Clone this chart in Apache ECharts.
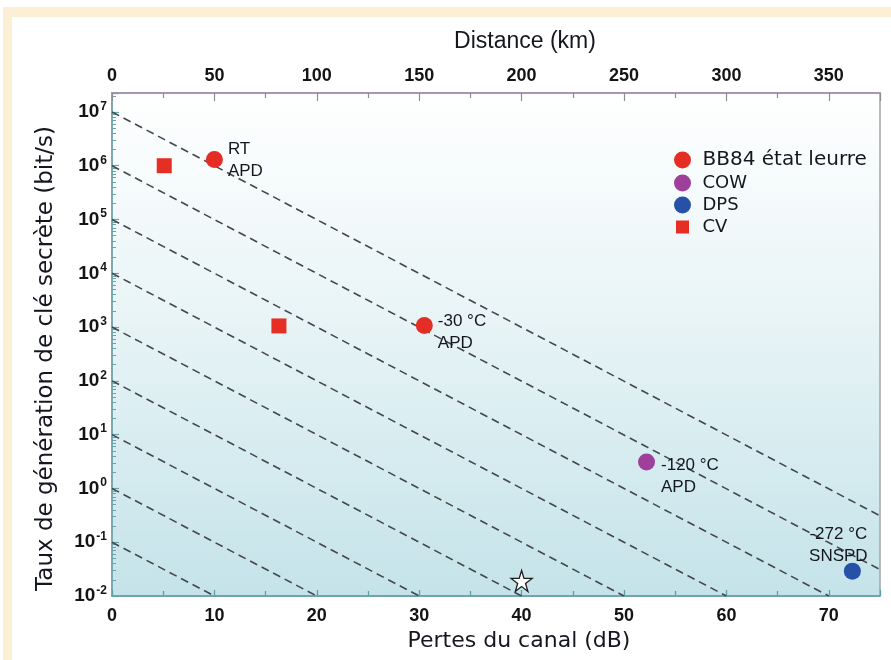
<!DOCTYPE html>
<html>
<head>
<meta charset="utf-8">
<title>Taux de clé secrète vs pertes du canal</title>
<script src="https://cdn.jsdelivr.net/npm/echarts@6/dist/echarts.min.js"></script>
<style>
  html, body { margin: 0; padding: 0; background: #ffffff; }
  #frameTop { position: absolute; left: 3px; top: 7px; width: 888px; height: 10px; background: #fcefd6; }
  #frameLeft { position: absolute; left: 3px; top: 7px; width: 9px; height: 653px; background: #fcefd6; }
  #main { position: absolute; left: 0; top: 0; width: 891px; height: 660px; }
</style>
</head>
<body>
<div id="frameTop"></div>
<div id="frameLeft"></div>
<div id="main"></div>
<script>
  // points: pertes (dB) / taux (bit/s)
  var bb84Loss = [10, 30.5]
  var bb84Rate = [1.3e6, 1.07e3]
  var bb84Text = ['RT\nAPD', '-30 °C\nAPD']

  var cowLoss = [52.2]
  var cowRate = [3.1]
  var cowText = ['-120 °C\nAPD']

  var dpsLoss = [72.3]
  var dpsRate = [0.029]
  var dpsText = ['-272 °C\nSNSPD']

  var cvLoss = [5.1, 16.3]
  var cvRate = [1.0e6, 1.05e3]

  var starLoss = [40]
  var starRate = [0.019]

  // dashed guide lines (start at 0 dB, end where they leave the frame)
  var guideStartRate = [1e7, 1e6, 1e5, 1e4, 1e3, 1e2, 1e1, 1, 0.1]
  var guideEndLoss = [75, 75, 70, 60, 50, 40, 30, 20, 10]
  var guideEndRate = [0.31, 0.031, 0.01, 0.01, 0.01, 0.01, 0.01, 0.01, 0.01]

  var lossMax = 75
  var distMax = 375
  var rateMin = 0.01
  var rateMax = 2.25e7

  var legendNames = ['BB84 état leurre', 'COW', 'DPS', 'CV']

  var myChart = echarts.init(document.getElementById('main'))

  function pts(xs, ys) {
    var out = []
    for (var i = 0; i < xs.length; i++) out.push([xs[i], ys[i]])
    return out
  }
  function labelled(xs, ys, txt) {
    var out = []
    for (var i = 0; i < xs.length; i++) out.push({value: [xs[i], ys[i]], name: txt[i]})
    return out
  }

  var pointLabel = {
    show: true,
    formatter: '{b}',
    color: '#15171f',
    fontSize: 17,
    lineHeight: 22,
    fontFamily: 'Liberation Sans, Arial, sans-serif'
  }

  var series = []
  for (var g = 0; g < guideStartRate.length; g++) {
    series.push({
      type: 'line',
      data: [[0, guideStartRate[g]], [guideEndLoss[g], guideEndRate[g]]],
      symbol: 'none',
      silent: true,
      z: 1,
      lineStyle: {color: '#43484e', width: 1.6, type: [8, 5]}
    })
  }

  var bb84Data = labelled(bb84Loss, bb84Rate, bb84Text)
  bb84Data[0].label = {offset: [0, 1]}
  bb84Data[1].label = {offset: [0, 7]}

  series.push({
    name: 'BB84 état leurre',
    type: 'scatter',
    symbol: 'circle',
    symbolSize: 17,
    itemStyle: {color: '#e42d24', opacity: 1},
    data: bb84Data,
    label: Object.assign({}, pointLabel, {position: 'right', distance: 5}),
    z: 5
  })
  series.push({
    name: 'COW',
    type: 'scatter',
    symbol: 'circle',
    symbolSize: 17,
    itemStyle: {color: '#9f3f9c', opacity: 1},
    data: labelled(cowLoss, cowRate, cowText),
    label: Object.assign({}, pointLabel, {position: 'right', distance: 6, offset: [0, 14]}),
    z: 5
  })
  series.push({
    name: 'DPS',
    type: 'scatter',
    symbol: 'circle',
    symbolSize: 17,
    itemStyle: {color: '#2651a6', opacity: 1},
    data: labelled(dpsLoss, dpsRate, dpsText),
    label: Object.assign({}, pointLabel, {position: 'top', distance: 4, offset: [-14, 9]}),
    z: 5
  })
  series.push({
    name: 'CV',
    type: 'scatter',
    symbol: 'rect',
    symbolSize: 15,
    itemStyle: {color: '#e52f25', opacity: 1},
    data: pts(cvLoss, cvRate),
    z: 5
  })
  series.push({
    type: 'scatter',
    symbol: 'path://M50,3 L61,38 L98,38 L68,60 L79,96 L50,74 L21,96 L32,60 L2,38 L39,38 Z',
    symbolSize: 21,
    itemStyle: {color: '#ffffff', borderColor: '#1e1e1e', borderWidth: 1.3, opacity: 1},
    data: pts(starLoss, starRate),
    z: 6
  })

  var tickFont = 'Liberation Sans, Arial, sans-serif'

  var option = {
    animation: false,
    grid: {
      left: 112, right: 11, top: 93, bottom: 64,
      show: true,
      borderColor: '#a3a6aa',
      borderWidth: 1.5,
      backgroundColor: new echarts.graphic.LinearGradient(0, 0, 0, 1, [
        {offset: 0, color: '#ffffff'},
        {offset: 0.45, color: '#e8f4f6'},
        {offset: 1, color: '#c4e3e9'}
      ])
    },
    legend: {
      orient: 'vertical',
      left: 669,
      top: 145,
      itemWidth: 30,
      itemHeight: 17,
      itemGap: 4,
      symbolKeepAspect: true,
      textStyle: {fontFamily: 'DejaVu Sans, sans-serif', fontSize: 18, color: '#15171f'},
      data: [
        {name: legendNames[0], textStyle: {fontSize: 20}},
        {name: legendNames[1]},
        {name: legendNames[2]},
        {name: legendNames[3], icon: 'path://M0,0 L0,0 M2,2 L15,2 L15,15 L2,15 Z M17,17 L17,17'}
      ]
    },
    xAxis: [
      {
        type: 'value',
        position: 'bottom',
        min: 0, max: lossMax, interval: 10,
        name: 'Pertes du canal (dB)',
        nameLocation: 'middle',
        nameGap: 31,
        nameTextStyle: {fontFamily: 'DejaVu Sans, sans-serif', fontSize: 22, color: '#15171f', padding: [0, 0, 0, 46]},
        axisLine: {lineStyle: {color: '#5e9fa6', width: 1.5}},
        axisTick: {inside: true, length: 6, lineStyle: {color: '#5e9fa6', width: 1.3}},
        minorTick: {show: true, splitNumber: 2, length: 5, lineStyle: {color: '#5e9fa6', width: 1.3}},
        axisLabel: {margin: 11, fontFamily: tickFont, fontWeight: 'bold', fontSize: 18, color: '#141414', showMaxLabel: false},
        splitLine: {show: false}
      },
      {
        type: 'value',
        position: 'top',
        min: 0, max: distMax, interval: 50,
        name: 'Distance (km)',
        nameLocation: 'middle',
        nameGap: 40,
        nameTextStyle: {fontFamily: 'Liberation Sans, Arial, sans-serif', fontSize: 23, color: '#15171f', padding: [0, 0, 0, 58]},
        axisLine: {lineStyle: {color: '#a896b2', width: 1.8}},
        axisTick: {inside: true, length: 8, lineStyle: {color: '#8b8d92', width: 1.2}},
        minorTick: {show: true, splitNumber: 2, length: 5, lineStyle: {color: '#8b8d92', width: 1.2}},
        axisLabel: {margin: 8, fontFamily: tickFont, fontWeight: 'bold', fontSize: 18, color: '#141414', showMaxLabel: false},
        splitLine: {show: false}
      }
    ],
    yAxis: {
      type: 'log',
      logBase: 10,
      min: rateMin, max: rateMax,
      name: 'Taux de génération de clé secrète (bit/s)',
      nameLocation: 'middle',
      nameGap: 54,
      nameTextStyle: {fontFamily: 'DejaVu Sans, sans-serif', fontSize: 23, color: '#15171f', padding: [0, 28, 0, 0]},
      axisLine: {lineStyle: {color: '#6aa4ab', width: 1.5}},
      axisTick: {inside: true, length: 7, lineStyle: {color: '#6aa4ab', width: 1.2}},
      minorTick: {show: true, splitNumber: 9, length: 4, lineStyle: {color: '#6aa4ab', width: 1}},
      splitLine: {show: false},
      axisLabel: {
        margin: 5,
        showMaxLabel: false,
        formatter: function (v) {
          var l = Math.log10(v)
          var e = Math.round(l)
          if (Math.abs(l - e) > 0.01) return ''
          return '{b|10}{s|' + e + '}'
        },
        rich: {
          b: {fontFamily: tickFont, fontWeight: 'bold', fontSize: 19, color: '#141414'},
          s: {fontFamily: tickFont, fontWeight: 'bold', fontSize: 12, color: '#141414', padding: [0, 0, 11, 1]}
        }
      }
    },
    series: series
  }

  myChart.setOption(option)
  window.addEventListener('resize', function () {
    myChart.resize()
  })
</script>
</body>
</html>
